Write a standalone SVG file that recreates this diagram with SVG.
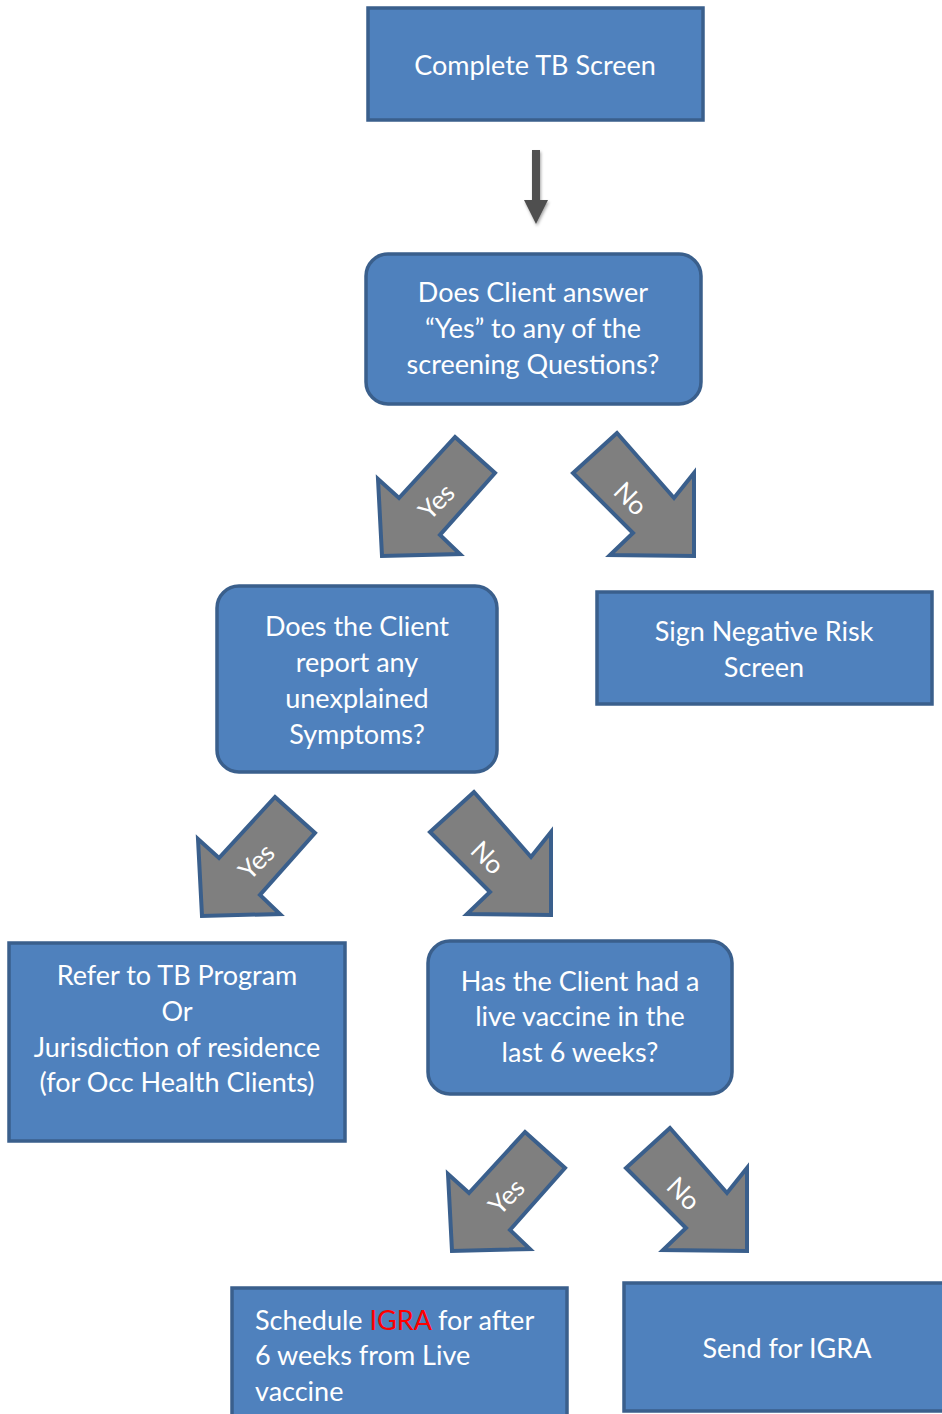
<svg xmlns="http://www.w3.org/2000/svg" width="942" height="1414" viewBox="0 0 942 1414">
<style>
.box{fill:#4f81bd;stroke:#3a5f8c;stroke-width:3.5}
.t{font-family:Lato,"Liberation Sans",sans-serif;font-size:27px;fill:#ffffff;text-anchor:middle}
.tl{font-family:Lato,"Liberation Sans",sans-serif;font-size:27px;fill:#ffffff}
.arr{fill:#7f7f7f;stroke:#3a5f8c;stroke-width:4;stroke-linejoin:miter}
.at{font-family:Lato,"Liberation Sans",sans-serif;font-size:26px;fill:#ffffff;text-anchor:middle}
</style>
<defs>
<polygon id="yesArrow" class="arr" points="455,437 495,473 440,535 460,554 382,556 378,479 399,498"/>
<polygon id="noArrow" class="arr" points="617,433 573,473 633,533 610,555 694,556 694,473 674,498"/>
<filter id="sh" x="-50%" y="-50%" width="200%" height="200%"><feDropShadow dx="1" dy="2" stdDeviation="1.5" flood-color="#000" flood-opacity="0.35"/></filter>
</defs>

<g id="connectors">
  <g id="down-arrow" filter="url(#sh)">
    <rect x="532" y="150" width="8" height="52" fill="#505050"/>
    <polygon points="524,200 548,200 536,224" fill="#505050"/>
  </g>
  <g id="yes1">
    <use href="#yesArrow"/>
    <text class="at" transform="translate(443,508) rotate(-45)">Yes</text>
  </g>
  <g id="no1">
    <use href="#noArrow"/>
    <text class="at" transform="translate(624,505) rotate(45)">No</text>
  </g>
  <g id="yes2">
    <use href="#yesArrow" transform="translate(-180,360)"/>
    <text class="at" transform="translate(263,868) rotate(-45)">Yes</text>
  </g>
  <g id="no2">
    <use href="#noArrow" transform="translate(-143,359)"/>
    <text class="at" transform="translate(481,864) rotate(45)">No</text>
  </g>
  <g id="yes3">
    <use href="#yesArrow" transform="translate(70,695)"/>
    <text class="at" transform="translate(513,1203) rotate(-45)">Yes</text>
  </g>
  <g id="no3">
    <use href="#noArrow" transform="translate(53,695)"/>
    <text class="at" transform="translate(677,1200) rotate(45)">No</text>
  </g>
</g>

<g id="n-complete">
  <rect class="box" x="368" y="8" width="335" height="112"/>
  <text class="t" x="535" y="75">Complete TB Screen</text>
</g>

<g id="n-does-client-answer">
  <rect class="box" x="366" y="254" width="335" height="150" rx="22"/>
  <text class="t" x="533" y="302">Does Client answer</text>
  <text class="t" x="533" y="338">“Yes” to any of the</text>
  <text class="t" x="533" y="374">screening Questions?</text>
</g>

<g id="n-symptoms">
  <rect class="box" x="217" y="586" width="280" height="186" rx="22"/>
  <text class="t" x="357" y="636">Does the Client</text>
  <text class="t" x="357" y="672">report any</text>
  <text class="t" x="357" y="708">unexplained</text>
  <text class="t" x="357" y="744">Symptoms?</text>
</g>

<g id="n-sign-negative">
  <rect class="box" x="597" y="592" width="335" height="112"/>
  <text class="t" x="764" y="641">Sign Negative Risk</text>
  <text class="t" x="764" y="677">Screen</text>
</g>

<g id="n-refer">
  <rect class="box" x="9" y="943" width="336" height="198"/>
  <text class="t" x="177" y="985">Refer to TB Program</text>
  <text class="t" x="177" y="1021">Or</text>
  <text class="t" x="177" y="1057">Jurisdiction of residence</text>
  <text class="t" x="177" y="1092">(for Occ Health Clients)</text>
</g>

<g id="n-live-vaccine">
  <rect class="box" x="428" y="941" width="304" height="153" rx="22"/>
  <text class="t" x="580" y="991">Has the Client had a</text>
  <text class="t" x="580" y="1026">live vaccine in the</text>
  <text class="t" x="580" y="1062">last 6 weeks?</text>
</g>

<g id="n-schedule">
  <rect class="box" x="232" y="1288" width="335" height="140"/>
  <text class="tl" x="255" y="1330">Schedule <tspan fill="#ff0000">IGRA</tspan> for after</text>
  <text class="tl" x="255" y="1365">6 weeks from Live</text>
  <text class="tl" x="255" y="1401">vaccine</text>
</g>

<g id="n-send-igra">
  <rect class="box" x="624" y="1283" width="330" height="128"/>
  <text class="t" x="787" y="1358">Send for IGRA</text>
</g>
</svg>
